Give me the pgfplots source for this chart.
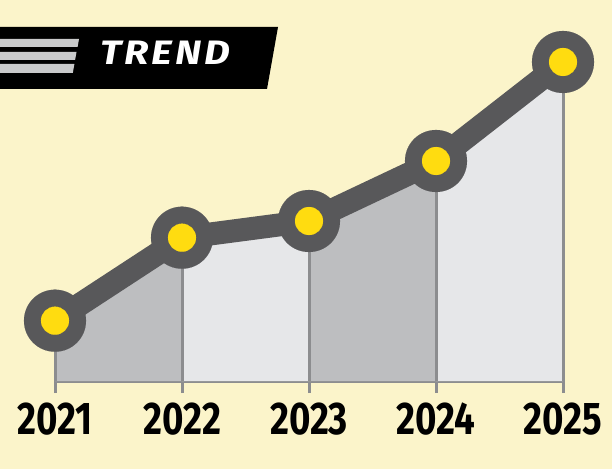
\documentclass[border=0pt]{standalone}
\usepackage{fontspec}
\usepackage{pgfplots}
\pgfplotsset{compat=1.18}
\setmainfont{Fira Sans}
\newfontfamily\labfont{Fira Sans}[FakeStretch=0.8]
\newfontfamily\trendfont{Fira Sans}[FakeStretch=1.18, LetterSpace=9]
\definecolor{bg}{HTML}{FBF4CA}
\definecolor{dg}{HTML}{58585A}
\definecolor{yel}{HTML}{FFDC10}
\definecolor{fa}{HTML}{BDBEC0}
\definecolor{fb}{HTML}{E6E7E9}
\definecolor{gl}{HTML}{8C8D8F}
\definecolor{stripe}{HTML}{C9CACB}
\begin{document}
\begin{tikzpicture}[x=1bp,y=1bp]
\fill[bg] (0,0) rectangle (612,-469);
\path[use as bounding box] (0,0) rectangle (612,-469);
% banner
\fill[black] (-5,-27) -- (278,-27) -- (267,-89) -- (-5,-89) -- cycle;
\fill[stripe] (-5,-39) -- (79,-39) -- (77.6,-47) -- (-5,-47) -- cycle;
\fill[stripe] (-5,-52) -- (76.5,-52) -- (75.1,-60) -- (-5,-60) -- cycle;
\fill[stripe] (-5,-64) -- (74.4,-64) -- (72.8,-73) -- (-5,-73) -- cycle;
\node[anchor=base west, inner sep=0pt, text=white, font=\trendfont\fontsize{34}{34}\selectfont\bfseries\itshape] at (100,-65) {TREND};
\begin{axis}[
  at={(55bp,-381bp)}, anchor=south west,
  scale only axis, width=508bp, height=319bp,
  xmin=0, xmax=4, ymin=0, ymax=319,
  clip=false,
  axis y line=none, axis x line=bottom,
  x axis line style={-, gl, line width=3bp},
  xtick={0,1,2,3,4},
  xticklabels={2021,2022,2023,2024,2025},
  tick align=outside, major tick length=12bp,
  tick style={gl, line width=3bp},
  xticklabel style={font=\labfont\fontsize{46}{46}\selectfont\bfseries, text=black, inner sep=0pt, anchor=north, yshift=-10bp},
]
\addplot[fill=fa, draw=none] coordinates {(0,0) (0,60.3) (1,143.3) (1,0)} -- cycle;
\addplot[fill=fb, draw=none] coordinates {(1,0) (1,143.3) (2,160) (2,0)} -- cycle;
\addplot[fill=fa, draw=none] coordinates {(2,0) (2,160) (3,220) (3,0)} -- cycle;
\addplot[fill=fb, draw=none] coordinates {(3,0) (3,220) (4,319) (4,0)} -- cycle;
\addplot[ycomb, gl, line width=3bp, mark=none] coordinates {(0,60.3) (1,143.3) (2,160) (3,220) (4,319)};
\addplot[dg, line width=23bp, line join=round, mark=*, mark size=31bp, mark options={fill=dg, draw=dg, line width=0.1bp}] coordinates {(0,60.3) (1,143.3) (2,160) (3,220) (4,319)};
\addplot[only marks, mark=*, mark size=14bp, mark options={fill=yel, draw=yel, line width=0.1bp}] coordinates {(0,60.3) (1,143.3) (2,160) (3,220) (4,319)};
\end{axis}
\end{tikzpicture}
\end{document}
